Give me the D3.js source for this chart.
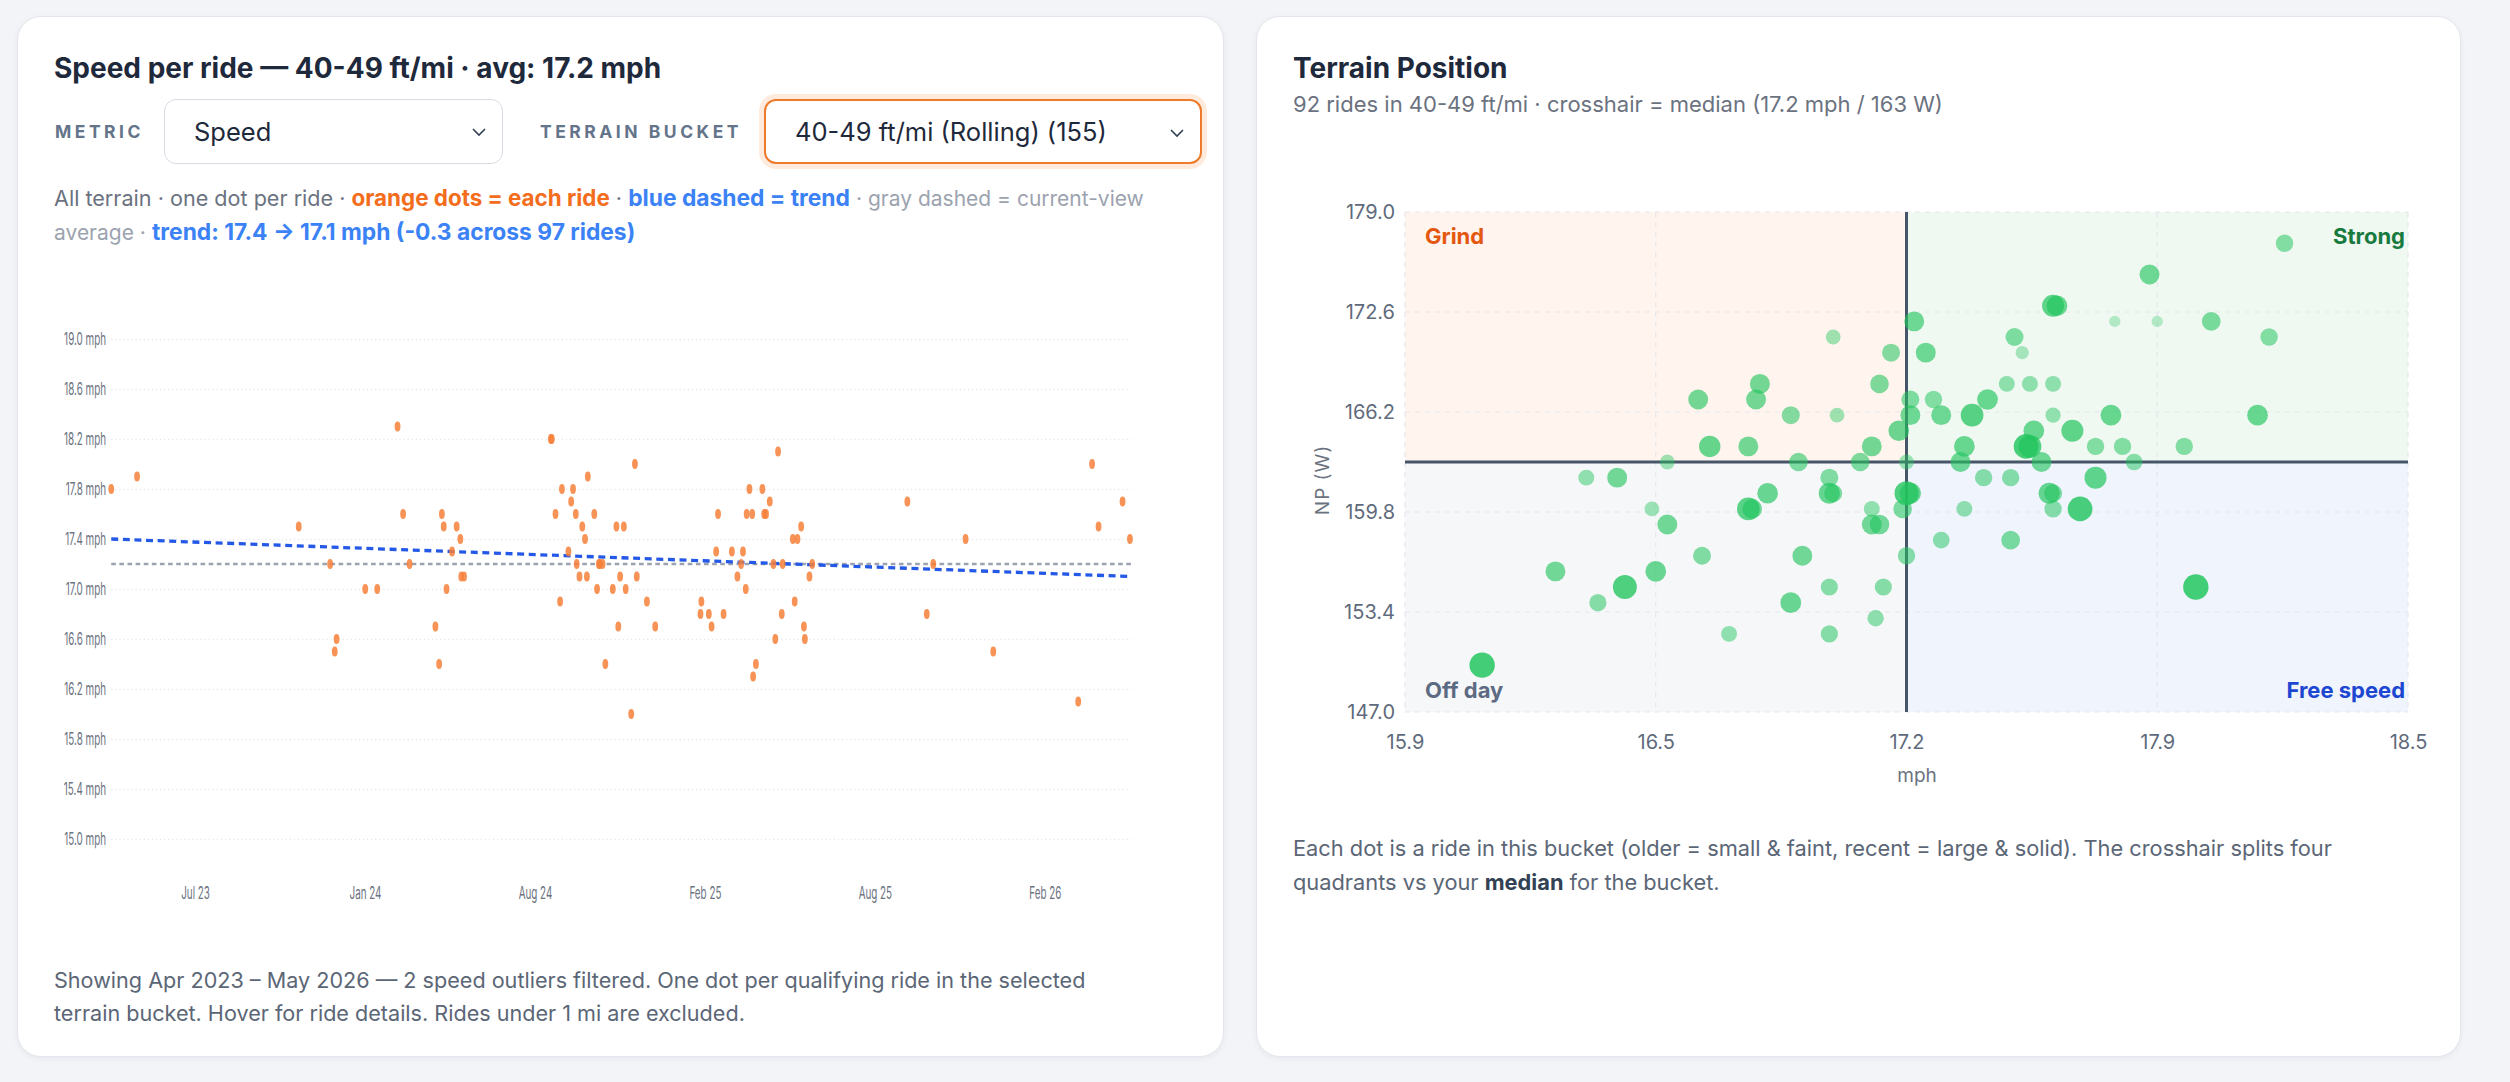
<!DOCTYPE html>
<html>
<head>
<meta charset="utf-8">
<title>Speed per ride / Terrain Position</title>
<script src="https://cdn.jsdelivr.net/npm/d3@7/dist/d3.min.js"></script>
<style>
  html, body { margin: 0; padding: 0; }
  body {
    width: 2510px; height: 1082px; overflow: hidden; position: relative;
    background: #f3f4f8;
    font-family: Inter, "Noto Sans", "DejaVu Sans", sans-serif;
    color: #1e293b;
  }
  .card {
    position: absolute; top: 16px; height: 1041px; box-sizing: border-box;
    background: #fff; border: 1px solid #e3e6ec; border-radius: 24px;
    box-shadow: 0 2px 6px rgba(15, 23, 42, 0.05);
  }
  #left-card { left: 17px; width: 1207px; }
  #right-card { left: 1256px; width: 1205px; }
  .card > * { position: absolute; }
  .title { left: 36px; top: 35px; font-size: 28px; font-weight: 700; line-height: 32px; white-space: nowrap; color: #1e293b; }
  .ctl-label { top: 82px; height: 65px; display: flex; align-items: center; font-size: 17.5px; font-weight: 700; letter-spacing: 3.5px; color: #64748b; }
  .select {
    top: 82px; height: 65px; box-sizing: border-box; display: flex; align-items: center;
    padding-left: 29px; font-size: 25.5px; color: #1e293b; background: #fff;
    border: 1.5px solid #d8dce3; border-radius: 12px;
  }
  .select.focus { border: 2px solid #ee7a2c; box-shadow: 0 0 0 5px rgba(249, 115, 22, 0.14); }
  .select svg { position: absolute; right: 16px; top: 28px; }
  .desc { left: 36px; top: 164px; font-size: 21.6px; line-height: 33px; color: #6b7280; white-space: nowrap; }
  .desc .o { color: #f36d1c; font-weight: 700; font-size: 22.4px; }
  .desc .b { color: #3b82f6; font-weight: 700; font-size: 22.8px; }
  .desc .lt { color: #9ca3af; font-size: 21px; }
  .note { left: 36px; font-size: 21.6px; line-height: 33px; color: #5b6676; white-space: nowrap; }
  .note b { color: #334155; }
  #left-chart { left: 19px; top: 283px; }
  #right-chart { left: 0; top: 163px; }
  .subtitle { left: 36px; top: 72px; font-size: 22px; line-height: 30px; color: #6b7280; white-space: nowrap; }
</style>
</head>
<body>
<div class="card" id="left-card">
  <div class="title" id="left-title"></div>
  <div class="ctl-label" style="left:37px">METRIC</div>
  <div class="select" style="left:146px; width:339px">Speed
    <svg width="14" height="9"><path d="M1 1 L7 7 L13 1" fill="none" stroke="#334155" stroke-width="1.6"/></svg>
  </div>
  <div class="ctl-label" style="left:522px">TERRAIN BUCKET</div>
  <div class="select focus" style="left:746px; width:438px">40-49 ft/mi (Rolling) (155)
    <svg width="14" height="9"><path d="M1 1 L7 7 L13 1" fill="none" stroke="#334155" stroke-width="1.6"/></svg>
  </div>
  <div class="desc" id="left-desc"></div>
  <div id="left-chart"></div>
  <div class="note" id="left-note" style="top:947px"></div>
</div>

<div class="card" id="right-card">
  <div class="title">Terrain Position</div>
  <div class="subtitle" id="right-sub"></div>
  <div id="right-chart"></div>
  <div class="note" style="top:814px; line-height:34px; font-size:21.8px">Each dot is a ride in this bucket (older = small &amp; faint, recent = large &amp; solid). The crosshair splits four<br>quadrants vs your <b>median</b> for the bucket.</div>
</div>

<script>
// ---- speed per ride (40-49 ft/mi bucket) ----
const rangeStart = '2023-04-30';
const rangeEnd = '2026-05-08';
// days since rangeStart for each ride
const rideDays = [0, 28, 203, 237, 242, 244, 275, 288, 310, 316,
  323, 351, 355, 358, 360, 363, 369, 374, 378, 379,
  382, 476, 477, 481, 486, 488, 495, 498, 500, 503,
  504, 507, 510, 513, 515, 516, 523, 526, 528, 529,
  532, 535, 543, 547, 549, 551, 555, 557, 563, 567,
  569, 580, 589, 638, 639, 647, 650, 655, 657, 663,
  672, 678, 682, 684, 687, 688, 691, 694, 695, 698,
  705, 707, 709, 713, 717, 719, 722, 726, 727, 738,
  740, 743, 747, 750, 751, 756, 759, 862, 883, 890,
  925, 955, 1047, 1062, 1069, 1095, 1103];
const rideSpeeds = [17.8, 17.9, 17.5, 17.2, 16.5, 16.6, 17.0, 17.0, 18.3, 17.6,
  17.2, 16.7, 16.4, 17.6, 17.5, 17.0, 17.3, 17.5, 17.4, 17.1,
  17.1, 18.2, 18.2, 17.6, 16.9, 17.8, 17.3, 17.7, 17.8, 17.6,
  17.2, 17.1, 17.5, 17.4, 17.1, 17.9, 17.6, 17.0, 17.2, 17.2,
  17.2, 16.4, 17.0, 17.5, 16.7, 17.1, 17.5, 17.0, 16.0, 18.0,
  17.1, 16.9, 16.7, 16.8, 16.9, 16.8, 16.7, 17.3, 17.6, 16.8,
  17.3, 17.1, 17.2, 17.3, 17.0, 17.6, 17.8, 17.6, 16.3, 16.4,
  17.8, 17.6, 17.6, 17.7, 17.2, 16.6, 18.1, 16.8, 17.2, 17.4,
  16.9, 17.4, 17.5, 16.7, 16.6, 17.1, 17.2, 17.7, 16.8, 17.2,
  17.4, 16.5, 16.1, 18.0, 17.5, 17.7, 17.4];
const speedTicks = [15.0, 15.4, 15.8, 16.2, 16.6, 17.0, 17.4, 17.8, 18.2, 18.6, 19.0];
const dateTicks = ['2023-07-30', '2024-01-30', '2024-08-01', '2025-02-01', '2025-08-04', '2026-02-04'];
const viewAvg = 17.2;
const trendFrom = 17.4;
const trendTo = 17.1;

// ---- terrain position scatter ----
const posSpeed = [17.01, 17.16, 17.13, 16.82, 16.66, 16.81, 16.90, 17.02, 17.18, 16.69,
  16.79, 17.11, 16.58, 16.92, 17.08, 16.37, 16.45, 17.00, 16.84, 17.00,
  17.01, 16.54, 16.79, 17.11, 16.58, 17.11, 17.13, 16.67, 16.93, 16.29,
  16.55, 16.47, 17.00, 17.14, 16.40, 16.90, 17.12, 16.74, 17.00, 16.10,
  17.22, 17.25, 17.21, 17.27, 17.21, 17.29, 17.37, 17.41, 17.46, 17.52,
  17.58, 17.48, 17.50, 17.58, 17.59, 17.83, 17.74, 17.85, 17.99, 18.14,
  18.18, 18.11, 17.58, 17.73, 17.53, 17.63, 17.35, 17.51, 17.69, 17.76,
  17.92, 17.20, 17.34, 17.55, 17.79, 17.40, 17.47, 17.69, 17.20, 17.57,
  17.58, 17.19, 17.35, 17.58, 17.65, 17.29, 17.47, 17.20, 17.95,
  17.52, 16.80, 17.21];
const posPower = [171, 170, 168, 168, 167, 167, 166, 166, 165, 164,
  164, 164, 163, 163, 163, 162, 162, 162, 161, 161,
  161, 160, 160, 160, 159, 159, 159, 157, 157, 156,
  156, 155, 155, 155, 154, 154, 153, 152, 152, 150,
  172, 170, 167, 167, 166, 166, 166, 167, 168, 168,
  168, 171, 170, 173, 173, 175, 172, 172, 172, 171,
  177, 166, 166, 166, 165, 165, 164, 164, 164, 164,
  164, 163, 163, 163, 163, 162, 162, 162, 161, 161,
  161, 160, 160, 160, 160, 158, 158, 157, 155,
  164, 160, 161];
// 0 = oldest ride, 1 = most recent
const posRecency = [0.3, 0.5, 0.54, 0.62, 0.62, 0.62, 0.5, 0.3, 0.67, 0.71,
  0.62, 0.62, 0.3, 0.54, 0.54, 0.37, 0.62, 0.5, 0.67, 0.7,
  0.5, 0.3, 0.79, 0.37, 0.62, 0.62, 0.6, 0.5, 0.62, 0.62,
  0.67, 0.87, 0.45, 0.45, 0.45, 0.67, 0.4, 0.37, 0.45, 0.96,
  0.62, 0.62, 0.5, 0.46, 0.62, 0.62, 0.79, 0.67, 0.37, 0.37,
  0.37, 0.5, 0.2, 0.75, 0.67, 0.62, 0.08, 0.08, 0.54, 0.46,
  0.46, 0.67, 0.33, 0.67, 0.67, 0.75, 0.67, 0.92, 0.46, 0.46,
  0.46, 0.3, 0.62, 0.62, 0.42, 0.46, 0.46, 0.75, 0.87, 0.7,
  0.5, 0.54, 0.37, 0.46, 0.92, 0.42, 0.54, 0.46, 0.96,
  0.8, 0.6, 0.7];
const posSpeedTicks = [15.9, 16.55, 17.2, 17.85, 18.5];
const posSpeedTickLabels = ['15.9', '16.5', '17.2', '17.9', '18.5'];
const posPowerTicks = [147.0, 153.4, 159.8, 166.2, 172.6, 179.0];
const medianSpeed = 17.2;
const medianPower = 163;

const parseDate = d3.timeParse('%Y-%m-%d');

class SpeedTimeline {
    constructor(_config, _data) {
        this.config = {
            parentElement: _config.parentElement,
            containerWidth: _config.containerWidth || 1160,
            containerHeight: _config.containerHeight || 630,
            squeeze: _config.squeeze || 0.58,
            margin: _config.margin || { top: 39, right: 114, bottom: 91, left: 128 }
        };
        this.data = _data;
        this.initVis();
    }

    initVis() {
        let vis = this;
        const m = vis.config.margin;

        // the source canvas is squeezed sideways, so draw in a wider viewBox and let it stretch
        vis.fullWidth = vis.config.containerWidth / vis.config.squeeze;
        vis.width = vis.fullWidth - m.left - m.right;
        vis.height = vis.config.containerHeight - m.top - m.bottom;

        vis.xScale = d3.scaleTime()
            .domain([parseDate(rangeStart), parseDate(rangeEnd)])
            .range([0, vis.width]);

        vis.yScale = d3.scaleLinear()
            .domain([d3.min(speedTicks), d3.max(speedTicks)])
            .range([vis.height, 0]);

        vis.xAxis = d3.axisBottom(vis.xScale)
            .tickValues(dateTicks.map(parseDate))
            .tickFormat(d3.timeFormat('%b %y'))
            .tickSize(0)
            .tickPadding(48);

        vis.yAxis = d3.axisLeft(vis.yScale)
            .tickValues(speedTicks)
            .tickFormat(d => d.toFixed(1) + ' mph')
            .tickSize(-vis.width)
            .tickPadding(9);

        vis.svg = d3.select(vis.config.parentElement)
            .append('svg')
            .attr('width', vis.config.containerWidth)
            .attr('height', vis.config.containerHeight)
            .attr('viewBox', `0 0 ${vis.fullWidth} ${vis.config.containerHeight}`)
            .attr('preserveAspectRatio', 'none');

        vis.chart = vis.svg.append('g')
            .attr('transform', `translate(${m.left},${m.top})`);

        vis.yAxisG = vis.chart.append('g').attr('class', 'axis y-axis');
        vis.xAxisG = vis.chart.append('g')
            .attr('class', 'axis x-axis')
            .attr('transform', `translate(0,${vis.height})`);
        vis.lineG = vis.chart.append('g');
        vis.dotG = vis.chart.append('g');
    }

    updateVis() {
        let vis = this;
        vis.xValue = d => d.date;
        vis.yValue = d => d.speed;
        vis.renderVis();
    }

    renderVis() {
        let vis = this;

        // axes + dotted grid
        vis.yAxisG.call(vis.yAxis)
            .attr('font-family', 'Inter, sans-serif')
            .attr('font-size', 17);
        vis.yAxisG.select('.domain').remove();
        vis.yAxisG.selectAll('line')
            .attr('stroke', '#e3e6eb')
            .attr('stroke-width', 1.4)
            .attr('stroke-dasharray', '2 5');
        vis.yAxisG.selectAll('text').attr('fill', '#6b7280');

        vis.xAxisG.call(vis.xAxis)
            .attr('font-family', 'Inter, sans-serif')
            .attr('font-size', 17);
        vis.xAxisG.select('.domain').remove();
        vis.xAxisG.selectAll('text').attr('fill', '#6b7280');

        // current-view average (gray) and trend (blue)
        const [d0, d1] = vis.xScale.domain();
        vis.lineG.append('line')
            .attr('x1', vis.xScale(d0)).attr('x2', vis.xScale(d1))
            .attr('y1', vis.yScale(viewAvg)).attr('y2', vis.yScale(viewAvg))
            .attr('stroke', '#9ca3af')
            .attr('stroke-width', 2.4)
            .attr('stroke-dasharray', '8 6');

        vis.lineG.append('path')
            .datum([{ date: d0, speed: trendFrom }, { date: d1, speed: trendTo }])
            .attr('fill', 'none')
            .attr('stroke', '#2458e6')
            .attr('stroke-width', 3.3)
            .attr('stroke-dasharray', '12 8')
            .attr('d', d3.line().x(d => vis.xScale(vis.xValue(d))).y(d => vis.yScale(vis.yValue(d))));

        vis.dotG.selectAll('.dot')
            .data(vis.data)
            .join('circle')
            .attr('class', 'dot')
            .attr('cx', d => vis.xScale(vis.xValue(d)))
            .attr('cy', d => vis.yScale(vis.yValue(d)))
            .attr('r', 5)
            .attr('fill', '#f7803a')
            .attr('fill-opacity', 0.85);
    }
}

class TerrainPosition {
    constructor(_config, _data) {
        this.config = {
            parentElement: _config.parentElement,
            containerWidth: _config.containerWidth || 1205,
            containerHeight: _config.containerHeight || 620,
            margin: _config.margin || { top: 32, right: 54, bottom: 88, left: 148 }
        };
        this.data = _data;
        this.initVis();
    }

    initVis() {
        let vis = this;
        const m = vis.config.margin;
        vis.width = vis.config.containerWidth - m.left - m.right;
        vis.height = vis.config.containerHeight - m.top - m.bottom;

        vis.xScale = d3.scaleLinear()
            .domain([d3.min(posSpeedTicks), d3.max(posSpeedTicks)])
            .range([0, vis.width]);
        vis.yScale = d3.scaleLinear()
            .domain([d3.min(posPowerTicks), d3.max(posPowerTicks)])
            .range([vis.height, 0]);

        vis.xAxis = d3.axisBottom(vis.xScale)
            .tickValues(posSpeedTicks)
            .tickFormat((d, i) => posSpeedTickLabels[i])
            .tickSize(0)
            .tickPadding(23);
        vis.yAxis = d3.axisLeft(vis.yScale)
            .tickValues(posPowerTicks)
            .tickFormat(d3.format('.1f'))
            .tickSize(0)
            .tickPadding(10);

        vis.svg = d3.select(vis.config.parentElement)
            .append('svg')
            .attr('width', vis.config.containerWidth)
            .attr('height', vis.config.containerHeight)
            .style('font-family', 'Inter, sans-serif');

        vis.chart = vis.svg.append('g')
            .attr('transform', `translate(${m.left},${m.top})`);

        // axis titles
        vis.svg.append('text')
            .attr('x', 660).attr('y', 595)
            .attr('dy', '0.35em')
            .attr('text-anchor', 'middle')
            .attr('font-size', 19)
            .attr('fill', '#6b7280')
            .text('mph');
        vis.svg.append('text')
            .attr('transform', 'translate(65,300) rotate(-90)')
            .attr('dy', '0.35em')
            .attr('text-anchor', 'middle')
            .attr('font-size', 19)
            .attr('letter-spacing', 1)
            .attr('fill', '#6b7280')
            .text('NP (W)');
    }

    updateVis() {
        let vis = this;
        vis.xValue = d => d.speed;
        vis.yValue = d => d.power;
        vis.renderVis();
    }

    renderVis() {
        let vis = this;
        const w = vis.width, h = vis.height;
        const mx = vis.xScale(medianSpeed), my = vis.yScale(medianPower);

        // quadrant tints
        const quads = [
            { x: 0, y: 0, w: mx, h: my, fill: '#fff4ee' },
            { x: mx, y: 0, w: w - mx, h: my, fill: '#eff8f1' },
            { x: 0, y: my, w: mx, h: h - my, fill: '#f6f7f9' },
            { x: mx, y: my, w: w - mx, h: h - my, fill: '#eff4fd' }
        ];
        vis.chart.selectAll('.quad')
            .data(quads)
            .join('rect')
            .attr('class', 'quad')
            .attr('x', d => d.x).attr('y', d => d.y)
            .attr('width', d => d.w).attr('height', d => d.h)
            .attr('fill', d => d.fill);

        // dashed grid
        vis.chart.selectAll('.vgrid')
            .data(posSpeedTicks)
            .join('line')
            .attr('class', 'vgrid')
            .attr('x1', d => vis.xScale(d)).attr('x2', d => vis.xScale(d))
            .attr('y1', 0).attr('y2', h)
            .attr('stroke', '#e4e7ec').attr('stroke-width', 1.2)
            .attr('stroke-dasharray', '5 5');
        vis.chart.selectAll('.hgrid')
            .data(posPowerTicks)
            .join('line')
            .attr('class', 'hgrid')
            .attr('x1', 0).attr('x2', w)
            .attr('y1', d => vis.yScale(d)).attr('y2', d => vis.yScale(d))
            .attr('stroke', '#e4e7ec').attr('stroke-width', 1.2)
            .attr('stroke-dasharray', '5 5');

        // crosshair at the bucket median
        vis.chart.append('line')
            .attr('x1', mx).attr('x2', mx).attr('y1', 0).attr('y2', h)
            .attr('stroke', '#475569').attr('stroke-width', 3);
        vis.chart.append('line')
            .attr('x1', 0).attr('x2', w).attr('y1', my).attr('y2', my)
            .attr('stroke', '#475569').attr('stroke-width', 3);

        // older rides first so recent ones sit on top
        const sorted = vis.data.slice().sort((a, b) => a.recency - b.recency);
        vis.chart.selectAll('.ride')
            .data(sorted)
            .join('circle')
            .attr('class', 'ride')
            .attr('cx', d => vis.xScale(vis.xValue(d)))
            .attr('cy', d => vis.yScale(vis.yValue(d)))
            .attr('r', d => 5 + 8 * d.recency)
            .attr('fill', '#22c55e')
            .attr('fill-opacity', d => 0.25 + 0.62 * d.recency);

        // quadrant names
        const labels = [
            { text: 'Grind', x: 20, y: 32, anchor: 'start', color: '#e4570e' },
            { text: 'Strong', x: w - 3, y: 32, anchor: 'end', color: '#177a3e' },
            { text: 'Off day', x: 20, y: h - 14, anchor: 'start', color: '#5d6b82' },
            { text: 'Free speed', x: w - 3, y: h - 14, anchor: 'end', color: '#1d46d1' }
        ];
        vis.chart.selectAll('.qlabel')
            .data(labels)
            .join('text')
            .attr('class', 'qlabel')
            .attr('x', d => d.x).attr('y', d => d.y)
            .attr('text-anchor', d => d.anchor)
            .attr('font-size', 22)
            .attr('font-weight', 700)
            .attr('fill', d => d.color)
            .text(d => d.text);

        vis.xAxisG = vis.chart.append('g')
            .attr('transform', `translate(0,${h})`)
            .call(vis.xAxis)
            .attr('font-family', 'Inter, sans-serif')
            .attr('font-size', 20);
        vis.yAxisG = vis.chart.append('g')
            .call(vis.yAxis)
            .attr('font-family', 'Inter, sans-serif')
            .attr('font-size', 20);
        vis.chart.selectAll('.domain').remove();
        vis.chart.selectAll('.tick text').attr('fill', '#5f6b7c');
    }
}

// ---- text around the charts ----
const fmtMonth = d3.timeFormat('%b %Y');
const trendDelta = (trendTo - trendFrom).toFixed(1);
d3.select('#left-title').text(`Speed per ride — 40-49 ft/mi · avg: ${viewAvg.toFixed(1)} mph`);
d3.select('#left-desc').html(
    'All terrain · one dot per ride · <span class="o">orange dots = each ride</span> · ' +
    '<span class="b">blue dashed = trend</span> <span class="lt">· gray dashed = current-view<br>average ·</span> ' +
    `<span class="b">trend: ${trendFrom.toFixed(1)} → ${trendTo.toFixed(1)} mph (${trendDelta} across ${rideDays.length} rides)</span>`);
d3.select('#left-note').html(
    `Showing ${fmtMonth(parseDate(rangeStart))} – ${fmtMonth(parseDate(rangeEnd))} — 2 speed outliers filtered. ` +
    'One dot per qualifying ride in the selected<br>terrain bucket. Hover for ride details. Rides under 1 mi are excluded.');
d3.select('#right-sub').text(
    `${posSpeed.length} rides in 40-49 ft/mi · crosshair = median (${medianSpeed.toFixed(1)} mph / ${medianPower} W)`);

const rides = rideDays.map((d, i) => ({
    date: d3.timeDay.offset(parseDate(rangeStart), d),
    speed: rideSpeeds[i]
}));
const positions = posSpeed.map((s, i) => ({ speed: s, power: posPower[i], recency: posRecency[i] }));

const timeline = new SpeedTimeline({ parentElement: '#left-chart' }, rides);
timeline.updateVis();

const terrain = new TerrainPosition({ parentElement: '#right-chart' }, positions);
terrain.updateVis();
</script>
</body>
</html>
